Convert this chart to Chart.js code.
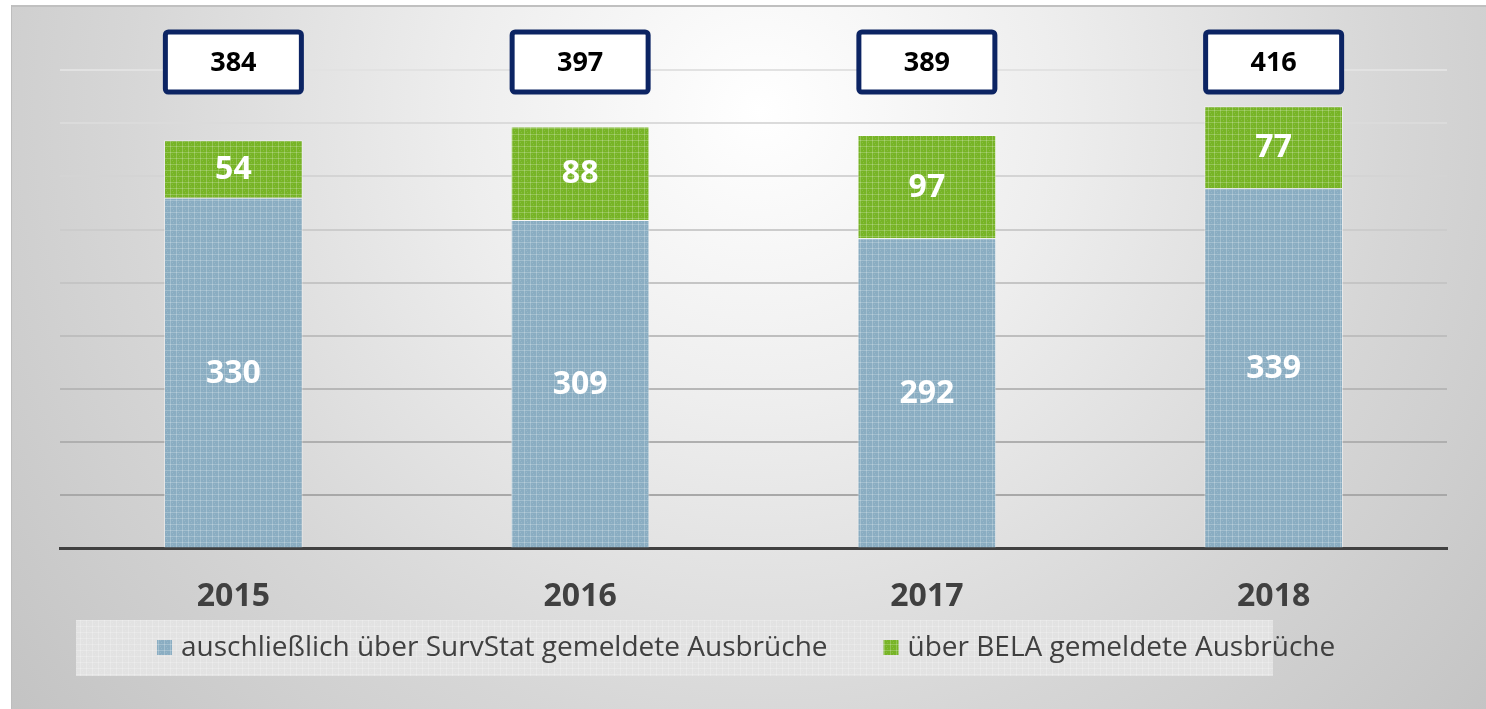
<!DOCTYPE html>
<html>
<head>
<meta charset="utf-8">
<script src="https://cdn.jsdelivr.net/npm/chart.js@4"></script>
<style>
  html, body { margin: 0; padding: 0; background: #fff; }
  #wrap { width: 1486px; height: 709px; position: relative; }
</style>
</head>
<body>
<div id="wrap"><canvas id="myChart" width="1486" height="709"></canvas></div>
<script>
// Daten
var jahre = ['2015', '2016', '2017', '2018'];
var survstat = [330, 309, 292, 339];
var bela = [54, 88, 97, 77];
var serienNamen = ['auschließlich über SurvStat gemeldete Ausbrüche', 'über BELA gemeldete Ausbrüche'];
var serienFarben = ['#8aadc2', '#77b426'];

var schrift = '"Open Sans", "DejaVu Sans", sans-serif';

function muster(farbe) {
    var c = document.createElement('canvas');
    c.width = 6;
    c.height = 6;
    var g = c.getContext('2d');
    g.fillStyle = farbe;
    g.fillRect(0, 0, 6, 6);
    g.fillStyle = 'rgba(255,255,255,0.22)';
    g.fillRect(0, 2, 6, 1);
    g.fillRect(2, 0, 1, 6);
    g.fillStyle = 'rgba(255,255,255,0.12)';
    g.fillRect(4, 4, 1, 1);
    g.fillRect(5, 0, 1, 1);
    return g.createPattern(c, 'repeat');
}

// Hintergrund mit Verlauf
var hintergrund = {
    id: 'hintergrund',
    beforeDraw: function (chart) {
        var ctx = chart.ctx;
        ctx.save();
        ctx.fillStyle = '#ffffff';
        ctx.fillRect(0, 0, chart.width, chart.height);
        var grad = ctx.createRadialGradient(760, 110, 0, 760, 110, 980);
        grad.addColorStop(0, '#ffffff');
        grad.addColorStop(0.3, '#eeeeee');
        grad.addColorStop(0.65, '#d6d6d6');
        grad.addColorStop(1, '#c2c2c2');
        ctx.fillStyle = grad;
        ctx.fillRect(11, 5, chart.width - 11, chart.height - 5);
        ctx.fillStyle = '#c0c0c0';
        ctx.fillRect(11, 5, chart.width - 11, 2);
        ctx.fillStyle = '#bdbdbd';
        ctx.fillRect(11, 5, 1, chart.height - 5);
        ctx.restore();
    }
};

// Werte in den Balken und Summenkästen
var beschriftung = {
    id: 'beschriftung',
    afterDatasetsDraw: function (chart) {
        var ctx = chart.ctx;
        ctx.save();
        ctx.textAlign = 'center';
        ctx.textBaseline = 'middle';
        ctx.font = 'bold 32px ' + schrift;
        ctx.fillStyle = '#ffffff';
        chart.data.datasets.forEach(function (ds, i) {
            chart.getDatasetMeta(i).data.forEach(function (bar, j) {
                ctx.fillText(ds.data[j], bar.x, (bar.y + bar.base) / 2 + 1);
            });
        });

        var meta = chart.getDatasetMeta(0);
        var yMitte = chart.chartArea.top + 45;
        meta.data.forEach(function (bar, j) {
            var summe = survstat[j] + bela[j];
            var b = 136, h = 60;
            ctx.beginPath();
            ctx.roundRect(bar.x - b / 2, yMitte - h / 2, b, h, 3);
            ctx.fillStyle = '#ffffff';
            ctx.fill();
            ctx.lineWidth = 5;
            ctx.strokeStyle = '#0c2463';
            ctx.stroke();
            ctx.fillStyle = '#000000';
            ctx.font = 'bold 27px ' + schrift;
            ctx.fillText(summe, bar.x, yMitte + 1);
        });
        ctx.restore();
    }
};

// eigene Legende unten
var legende = {
    id: 'legende',
    afterDraw: function (chart) {
        var ctx = chart.ctx;
        ctx.save();
        ctx.fillStyle = muster('#e2e2e2');
        ctx.fillRect(76, 620, 1197, 56);
        ctx.font = '28px ' + schrift;
        ctx.textBaseline = 'middle';
        ctx.textAlign = 'left';
        var x = 157, y = 648;
        chart.data.datasets.forEach(function (ds, i) {
            ctx.fillStyle = muster(serienFarben[i]);
            ctx.fillRect(x, y - 8, 15, 15);
            ctx.fillStyle = '#404040';
            ctx.fillText(ds.label, x + 24, y);
            x += 24 + ctx.measureText(ds.label).width + 56;
        });
        ctx.restore();
    }
};

function gitterFarbe(ctx) {
    var v = ctx.tick.value;
    if (v <= 0 || v >= 500) return 'rgba(0,0,0,0)';
    var t = (v - 50) / 400;
    var g = Math.round(168 + t * (226 - 168));
    return 'rgb(' + g + ',' + g + ',' + g + ')';
}

var ctx = document.getElementById('myChart').getContext('2d');

new Chart(ctx, {
    type: 'bar',
    data: {
        labels: jahre,
        datasets: [
            {
                label: serienNamen[0],
                data: survstat,
                backgroundColor: muster(serienFarben[0]),
                borderColor: 'rgba(255,255,255,0.45)',
                borderWidth: 1,
                borderSkipped: 'bottom'
            },
            {
                label: serienNamen[1],
                data: bela,
                backgroundColor: muster(serienFarben[1]),
                borderColor: 'rgba(255,255,255,0.45)',
                borderWidth: 1,
                borderSkipped: 'bottom'
            }
        ]
    },
    options: {
        responsive: false,
        animation: false,
        layout: {
            padding: { left: 60, right: 39, top: 17, bottom: 64 }
        },
        datasets: {
            bar: {
                barPercentage: 0.4,
                categoryPercentage: 1
            }
        },
        plugins: {
            legend: { display: false },
            tooltip: { enabled: false }
        },
        scales: {
            x: {
                stacked: true,
                grid: { display: false, drawTicks: false },
                border: { display: true, color: '#404040', width: 3 },
                ticks: {
                    color: '#404040',
                    padding: 29,
                    font: { family: schrift, size: 32, weight: 'bold' }
                }
            },
            y: {
                stacked: true,
                min: 0,
                max: 500,
                ticks: { display: false, stepSize: 50 },
                border: { display: false },
                grid: {
                    drawTicks: false,
                    lineWidth: 2,
                    color: gitterFarbe
                }
            }
        }
    },
    plugins: [hintergrund, beschriftung, legende]
});
</script>
</body>
</html>
